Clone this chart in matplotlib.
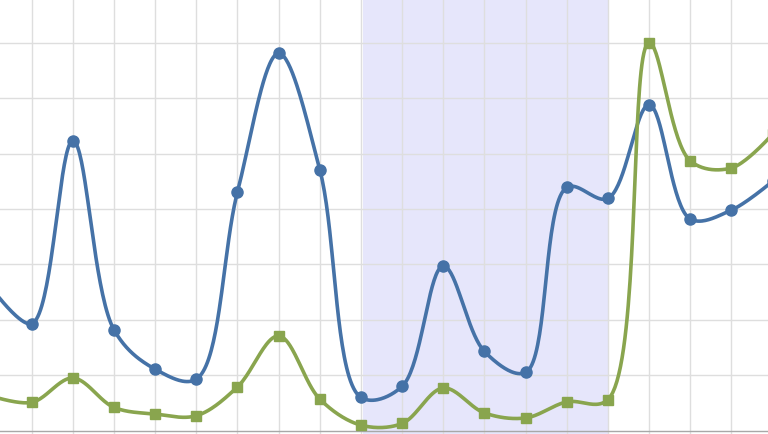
import numpy as np
import matplotlib
matplotlib.use("Agg")
import matplotlib.pyplot as plt

# categories -1 and 18 sit just outside the visible window
cats = list(range(-1, 19))
blue = [2.6, 1.93, 5.23, 1.82, 1.11, 0.93, 4.31, 6.81, 4.71, 0.60,
        0.80, 2.97, 1.43, 1.05, 4.39, 4.19, 5.88, 3.82, 3.98, 4.5]
green = [0.63, 0.51, 0.95, 0.42, 0.30, 0.27, 0.79, 1.71, 0.57, 0.10,
         0.13, 0.77, 0.32, 0.23, 0.52, 0.56, 7.0, 4.87, 4.74, 5.35]
band = (8.06, 14.01)

BLUE, GREEN = "#4572A7", "#89A54E"


def smooth(ax, xs, ys, n=40):
    # centripetal catmull-rom in screen space
    pts = ax.transData.transform(np.column_stack([xs, ys]))
    m = len(pts)
    out = []
    for i in range(m - 1):
        p0, p1, p2, p3 = pts[max(i - 1, 0)], pts[i], pts[i + 1], pts[min(i + 2, m - 1)]
        l01, l12, l23 = (np.hypot(*(p1 - p0)), np.hypot(*(p2 - p1)), np.hypot(*(p3 - p2)))
        a01, a12, a23 = np.sqrt(l01), np.sqrt(l12), np.sqrt(l23)
        c1, c2 = p1.copy(), p2.copy()
        if a01 > 1e-6:
            a = 2 * l01 + 3 * a01 * a12 + l12
            c1 = (p1 * a - p0 * l12 + p2 * l01) / (3 * a01 * (a01 + a12))
        if a23 > 1e-6:
            b = 2 * l23 + 3 * a23 * a12 + l12
            c2 = (p2 * b + p1 * l23 - p3 * l12) / (3 * a23 * (a23 + a12))
        t = np.linspace(0, 1, n)[:, None]
        seg = (1 - t) ** 3 * p1 + 3 * (1 - t) ** 2 * t * c1 + 3 * (1 - t) * t ** 2 * c2 + t ** 3 * p2
        out.append(seg if i == 0 else seg[1:])
    return ax.transData.inverted().transform(np.vstack(out))


fig = plt.figure(figsize=(7.68, 4.35), dpi=100)
ax = fig.add_axes([0, 0, 1, 1])
ax.set_xlim(-0.77, 17.89)
ax.set_ylim(-0.06, 7.79)
ax.set_axis_off()

ax.axvspan(*band, color="#e6e6fb", lw=0, zorder=0)
for v in range(18):
    ax.axvline(v, color="#dedede", lw=1, zorder=1)
for v in range(1, 8):
    ax.axhline(v, color="#dedede", lw=1, zorder=1)
ax.axhline(0, color="#a8a8a8", lw=1, zorder=1)

for ys, col, mk, ms in [(blue, BLUE, "o", 8), (green, GREEN, "s", 6.8)]:
    curve = smooth(ax, cats, ys)
    ax.plot(curve[:, 0], curve[:, 1], color=col, lw=2.6, zorder=3, solid_capstyle="round")
    ax.plot(cats, ys, ls="none", marker=mk, ms=ms, color=col, mec=col, zorder=4)

fig.savefig("out.png", dpi=100)
